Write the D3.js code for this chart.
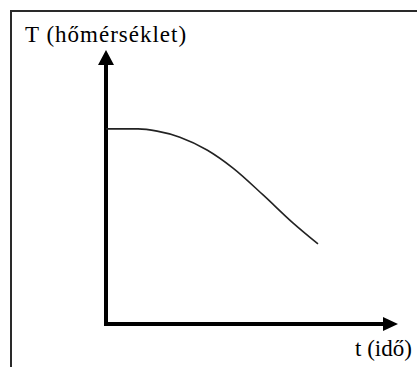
<!DOCTYPE html>
<html>
<head>
<meta charset="utf-8">
<script src="https://cdn.jsdelivr.net/npm/d3@7"></script>
<style>
  html, body { margin: 0; padding: 0; background: #fff; overflow: hidden; }
  svg { display: block; }
  .label { font-family: "Liberation Serif"; font-size: 23px; fill: #000; }
</style>
</head>
<body>
<svg id="chart" width="417" height="367"></svg>
<script>
// Cooling curve: temperature falling over time (arbitrary units)
const timeValues = [0, 11, 17.5, 25.3, 34.6, 43.5, 53.8, 64, 72.6];
const tempValues = [71.2, 71.2, 70.4, 68.2, 63.5, 56.9, 47.1, 36.9, 29.2];
const axisLabels = { y: "T (hőmérséklet)", x: "t (idő)" };
const axisMax = 100;

const svg = d3.select("#chart");

const x = d3.scaleLinear().domain([0, axisMax]).range([106, 398]);
const y = d3.scaleLinear().domain([0, axisMax]).range([324, 50]);

// frame: top and left edges only (the rest runs off the page)
svg.append("path")
  .attr("d", "M11,367 L11,11 L417,11")
  .attr("fill", "none")
  .attr("stroke", "#2a2a2a")
  .attr("stroke-width", 2);

const head = 15, half = 8;

// vertical axis with arrow
svg.append("line")
  .attr("x1", x(0)).attr("x2", x(0))
  .attr("y1", y(0) + 2).attr("y2", y(axisMax) + head - 1)
  .attr("stroke", "#000").attr("stroke-width", 4);
svg.append("path")
  .attr("d", `M${x(0)},${y(axisMax)} L${x(0) - half},${y(axisMax) + head} L${x(0) + half},${y(axisMax) + head} Z`)
  .attr("fill", "#000");

// horizontal axis with arrow
svg.append("line")
  .attr("x1", x(0) - 2).attr("x2", x(axisMax) - head + 1)
  .attr("y1", y(0)).attr("y2", y(0))
  .attr("stroke", "#000").attr("stroke-width", 4);
svg.append("path")
  .attr("d", `M${x(axisMax)},${y(0)} L${x(axisMax) - head},${y(0) - 7} L${x(axisMax) - head},${y(0) + 7} Z`)
  .attr("fill", "#000");

// curve
const pts = timeValues.map((t, i) => [t, tempValues[i]]);
const line = d3.line()
  .x(d => x(d[0]))
  .y(d => y(d[1]))
  .curve(d3.curveMonotoneX);
svg.append("path")
  .datum(pts)
  .attr("d", line)
  .attr("fill", "none")
  .attr("stroke", "#222")
  .attr("stroke-width", 1.6);

// axis titles
svg.append("text")
  .attr("class", "label")
  .attr("x", 25).attr("y", 42)
  .style("letter-spacing", "1px")
  .text(axisLabels.y);
svg.append("text")
  .attr("class", "label")
  .attr("x", 355).attr("y", 356)
  .text(axisLabels.x);
</script>
</body>
</html>
